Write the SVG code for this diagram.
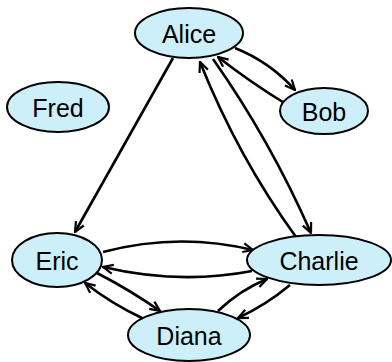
<svg xmlns="http://www.w3.org/2000/svg" width="392" height="362" viewBox="0 0 392 362">
<style>
.node ellipse{fill:#cdeff9;stroke:#000;stroke-width:2}
.node text{font-family:"Liberation Sans",Arial,sans-serif;font-size:25px;fill:#000;text-anchor:middle;dominant-baseline:central}
.edges path{fill:none;stroke:#000;stroke-width:2.6;marker-end:url(#arr)}
</style>
<defs>
<marker id="arr" markerUnits="userSpaceOnUse" viewBox="0 0 12 12" markerWidth="12" markerHeight="12" refX="11" refY="6" orient="auto">
<path d="M1,1.5 L11,6 L1,10.5" fill="none" stroke="#000" stroke-width="2.2"/>
</marker>
</defs>
<rect width="392" height="362" fill="#fff"/>
<g class="edges">
<path d="M173,58 L75,232"/>
<path d="M235,48 Q270,62 295,90"/>
<path d="M286,104 Q250,82 218,57"/>
<path d="M213,59 Q270,140 311,233"/>
<path d="M296,237 Q238,157 200,62"/>
<path d="M103,252 Q178,232 253,250"/>
<path d="M252,271 Q180,285 103,267"/>
<path d="M97,273 Q130,290 160,311"/>
<path d="M142,318 Q112,304 85,283"/>
<path d="M218,311 Q240,290 267,279"/>
<path d="M290,285 Q266,305 238,318"/>
</g>
<g id="Alice" class="node"><ellipse cx="189" cy="33" rx="54" ry="25"/><text x="189" y="34">Alice</text></g>
<g id="Bob" class="node"><ellipse cx="324" cy="111" rx="44" ry="23"/><text x="324" y="112">Bob</text></g>
<g id="Fred" class="node"><ellipse cx="58" cy="107" rx="51" ry="25"/><text x="58" y="108">Fred</text></g>
<g id="Eric" class="node"><ellipse cx="57" cy="260" rx="45" ry="27"/><text x="57" y="261">Eric</text></g>
<g id="Charlie" class="node"><ellipse cx="319" cy="260" rx="72" ry="25"/><text x="319" y="261">Charlie</text></g>
<g id="Diana" class="node"><ellipse cx="189" cy="335" rx="61" ry="26"/><text x="189" y="336">Diana</text></g>
</svg>
